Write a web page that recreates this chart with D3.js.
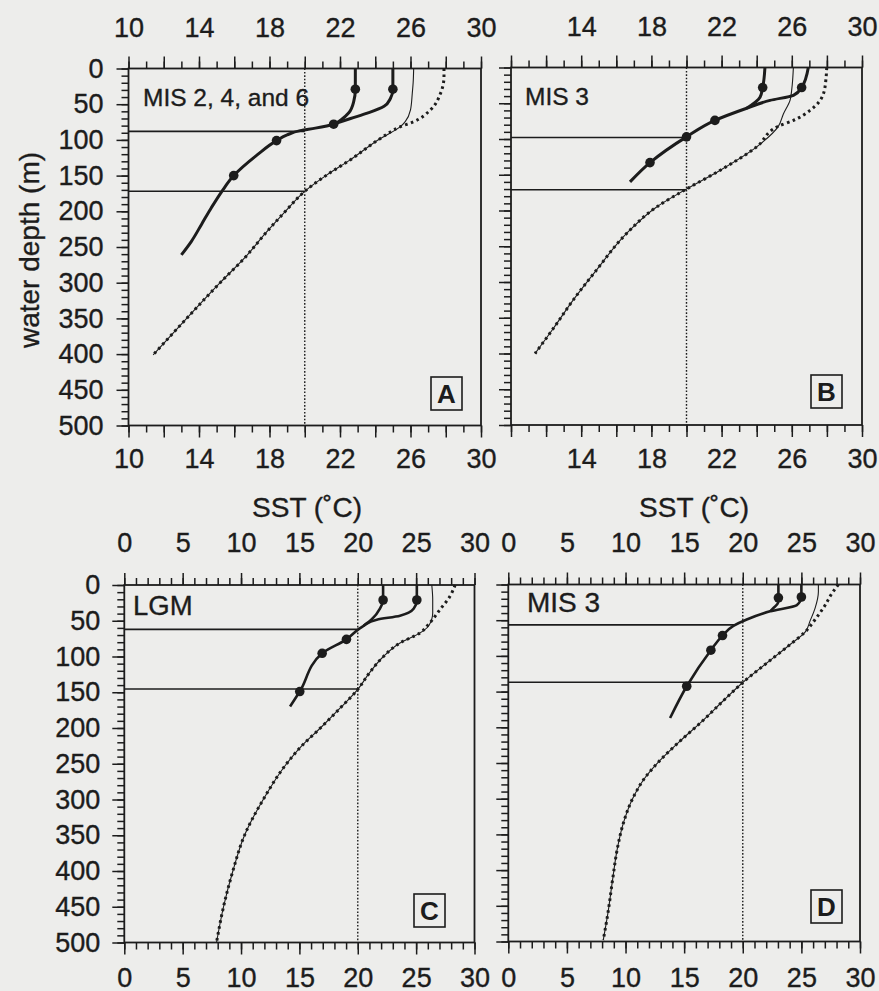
<!DOCTYPE html>
<html>
<head>
<meta charset="utf-8">
<script src="https://cdn.jsdelivr.net/npm/d3@7.9.0/dist/d3.min.js"></script>
<style>
  body { margin: 0; background: #ededeb; }
  svg { display: block; }
</style>
</head>
<body>
<svg id="chart"></svg>
<script>
// ---- data: [SST (deg C), water depth (m)] ----
// panel A, MIS 2, 4, and 6
const aThick1 = [[22.87,0],[22.87,29],[22.78,46],[22.5,62],[22.05,72],[21.64,78],[20.6,83.5],[19.74,87],[19.0,93],[18.4,101],[17.3,121],[15.97,150],[15.3,172],[14.7,195],[14.15,218],[13.57,242],[13.0,261]];
const aThick2 = [[25.0,0],[25.0,29],[24.86,42],[24.5,53],[23.55,62.5],[22.6,70],[21.64,78]];
const aThinTop = [[26.18,0],[26.15,20],[26.1,35],[26.0,58],[25.7,74.5]];
const aDottedTop = [[27.9,0],[27.9,11],[27.7,35],[27.13,58],[26.18,74.5]];
const aDeep = [[25.43,81.5],[24.29,98],[22.58,128],[21.26,149],[20.0,172],[18.9,200],[17.8,230],[16.6,265],[15.2,300],[13.3,350],[11.4,401]];
const aDots = [[22.87,29],[25.0,29],[21.64,78],[18.4,101],[15.97,150]];
const aIso = [[88,20],[172,20]];

// panel B, MIS 3
const bThick1 = [[26.94,0],[26.56,28],[26.09,39],[24.76,46],[23.43,57],[21.62,74],[20.0,97],[17.92,133],[16.78,160]];
const bThick2 = [[24.47,0],[24.34,28],[24.19,41.5],[23.43,57]];
const bThinTop = [[26.09,0],[26.0,30],[25.9,46],[25.52,65]];
const bDottedTop = [[27.99,0],[27.95,15],[27.8,37],[27.04,60],[26.09,74]];
const bDeep = [[25.24,82],[24.0,111],[21.9,144],[20.0,170],[18.3,195],[16.59,232],[14.88,283],[13.55,325],[12.41,365],[11.37,400]];
const bDots = [[24.34,28],[26.56,28],[21.62,74],[20.0,97],[17.92,133]];
const bIso = [[98,20],[171,20]];

// panel C, LGM
const cThick1 = [[25.06,0],[25.06,21],[24.8,33],[23.62,43],[21.63,48.5],[20.5,57],[20.05,62],[19.03,76],[16.95,95.5],[15.03,149],[14.2,170]];
const cThick2 = [[22.17,0],[22.17,21],[21.9,33],[21.2,48],[20.5,57]];
const cThinTop = [[26.34,0],[26.42,20],[26.42,39],[26.05,57.7]];
const cDottedTop = [[28.34,0],[27.9,15.7],[27.05,34.3],[26.05,55.3]];
const cDeep = [[25.34,67],[23.62,81],[22.2,100],[21.0,123],[20.0,146],[18.5,172],[16.8,200],[15.2,225],[13.9,250],[11.9,300],[10.3,350],[9.3,400],[8.5,450],[7.9,500]];
const cDots = [[22.17,21],[25.06,21],[19.03,76],[16.95,95.5],[15.03,149]];
const cIso = [[62,20],[145.5,20]];

// panel D, MIS 3
const dThick1 = [[25.0,0],[25.0,17.5],[24.6,29],[22.33,37.6],[20.34,49],[19.2,58],[18.27,71.5],[17.28,92],[15.22,142.5],[13.8,187]];
const dThick2 = [[23.04,0],[23.04,18.7],[23.0,26],[22.6,33],[22.33,37.6]];
const dThinTop = [[26.45,0],[26.45,10],[26.17,33],[25.74,51]];
const dDottedTop = [[28.16,0],[27.73,9.4],[26.88,32.7],[26.17,49]];
const dDeep = [[25.35,66],[24.04,84],[22.05,110],[20.05,136.5],[18.3,163.5],[16.5,192],[14.6,220],[12.9,247],[11.6,272],[10.6,300],[9.8,335],[9.3,370],[8.9,413],[8.5,460],[8.1,498]];
const dDots = [[23.04,18.7],[25.0,17.5],[18.27,71.5],[17.28,92],[15.22,142.5]];
const dIso = [[56.5,19.3],[137,20]];

const xLabelsA = [10, 14, 18, 22, 26, 30];
const xLabelsB = [14, 18, 22, 26, 30];
const xLabelsCD = [0, 5, 10, 15, 20, 25, 30];
const yLabels = [0, 50, 100, 150, 200, 250, 300, 350, 400, 450, 500];

const ink = "#1c1c1c";
const font = "'Liberation Sans', Arial, Helvetica, sans-serif";
const tickFont = 27;

const svg = d3.select("#chart").attr("width", 879).attr("height", 991);
svg.append("rect").attr("width", 879).attr("height", 991).attr("fill", "#ededeb");

const panels = [
    { name: "MIS 2, 4, and 6", letter: "A", thick: [aThick1, aThick2], thin: aThinTop.concat(aDeep), dotted: aDottedTop.concat(aDeep), dots: aDots, iso: aIso,
      left: 128.5, right: 481, top: 68.5, bottom: 425.5, xDomain: [10, 30], major: 2, xLabels: xLabelsA, yLabels: true, yPad: 13,
      topPad: 19.5, bottomPad: 11.5, nameX: 143, nameY: 106, nameSize: 24.5, boxX: 431, boxY: 377, thickW: 3 },
    { name: "MIS 3", letter: "B", thick: [bThick1, bThick2], thin: bThinTop.concat(bDeep), dotted: bDottedTop.concat(bDeep), dots: bDots, iso: bIso,
      left: 511, right: 862, top: 67.5, bottom: 425, xDomain: [10, 30], major: 2, xLabels: xLabelsB, yLabels: false,
      topPad: 19.5, bottomPad: 11.5, nameX: 525, nameY: 105, nameSize: 24.5, boxX: 811, boxY: 375, thickW: 3 },
    { name: "LGM", letter: "C", thick: [cThick1, cThick2], thin: cThinTop.concat(cDeep), dotted: cDottedTop.concat(cDeep), dots: cDots, iso: cIso,
      left: 124.3, right: 474.5, top: 585, bottom: 942.5, xDomain: [0, 30], major: 5, xLabels: xLabelsCD, yLabels: true, yPad: 12,
      topPad: 21, bottomPad: 13.5, nameX: 133, nameY: 615, nameSize: 27.5, boxX: 414, boxY: 894, thickW: 2.6 },
    { name: "MIS 3", letter: "D", thick: [dThick1, dThick2], thin: dThinTop.concat(dDeep), dotted: dDottedTop.concat(dDeep), dots: dDots, iso: dIso,
      left: 508.3, right: 860, top: 584.5, bottom: 941.5, xDomain: [0, 30], major: 5, xLabels: xLabelsCD, yLabels: false,
      topPad: 21, bottomPad: 14.5, nameX: 527, nameY: 612, nameSize: 28, boxX: 811, boxY: 890, thickW: 2.6 }
];

// scanned print looks a bit heavier than a plain screen font
function inkText(sel) {
    sel.attr("fill", ink).attr("stroke", ink).attr("stroke-width", 0.35);
}

function styleAxis(sel) {
    sel.select(".domain").remove();
    sel.selectAll("line").attr("stroke", ink).attr("stroke-width", 1.5);
    sel.attr("font-size", tickFont).attr("font-family", font);
    sel.selectAll("text").call(inkText);
}

function drawPanel(p) {
    const x = d3.scaleLinear().domain(p.xDomain).range([p.left, p.right]);
    const y = d3.scaleLinear().domain([0, 500]).range([p.top, p.bottom]);
    const g = svg.append("g");

    const xMinor = d3.range(p.xDomain[0], p.xDomain[1] + 1, 1);
    const xMajor = d3.range(p.xDomain[0], p.xDomain[1] + 1, p.major);
    const fmt = d => p.xLabels.includes(d) ? d : "";

    g.append("g").attr("transform", `translate(0,${p.top})`)
        .call(d3.axisTop(x).tickValues(xMinor).tickSize(7).tickFormat("")).call(styleAxis);
    g.append("g").attr("transform", `translate(0,${p.top})`)
        .call(d3.axisTop(x).tickValues(xMajor).tickSize(12).tickPadding(p.topPad).tickFormat(fmt)).call(styleAxis);
    g.append("g").attr("transform", `translate(0,${p.bottom})`)
        .call(d3.axisBottom(x).tickValues(xMinor).tickSize(7).tickFormat("")).call(styleAxis);
    g.append("g").attr("transform", `translate(0,${p.bottom})`)
        .call(d3.axisBottom(x).tickValues(xMajor).tickSize(12).tickPadding(p.bottomPad).tickFormat(fmt)).call(styleAxis);

    g.append("g").attr("transform", `translate(${p.left},0)`)
        .call(d3.axisLeft(y).tickValues(d3.range(0, 501, 10)).tickSize(7).tickFormat("")).call(styleAxis);
    g.append("g").attr("transform", `translate(${p.left},0)`)
        .call(d3.axisLeft(y).tickValues(yLabels).tickSize(12).tickPadding(p.yPad || 10)
            .tickFormat(d => p.yLabels ? d : "")).call(styleAxis);

    // frame
    g.append("rect")
        .attr("x", p.left).attr("y", p.top)
        .attr("width", p.right - p.left).attr("height", p.bottom - p.top)
        .attr("fill", "none").attr("stroke", ink).attr("stroke-width", 1.8);

    // 20 degree reference
    g.append("line")
        .attr("x1", x(20)).attr("x2", x(20)).attr("y1", p.top).attr("y2", p.bottom)
        .attr("stroke", ink).attr("stroke-width", 1.4).attr("stroke-dasharray", "1.6,1.8");

    // depth of the 20 degree isotherm
    g.selectAll(".iso").data(p.iso).join("line")
        .attr("x1", p.left).attr("x2", d => x(d[1]))
        .attr("y1", d => y(d[0])).attr("y2", d => y(d[0]))
        .attr("stroke", ink).attr("stroke-width", 1.6);

    const line = d3.line().x(d => x(d[0])).y(d => y(d[1])).curve(d3.curveMonotoneY);

    g.append("path").attr("d", line(p.thin))
        .attr("fill", "none").attr("stroke", ink).attr("stroke-width", 1.1);
    g.append("path").attr("d", line(p.dotted))
        .attr("fill", "none").attr("stroke", ink).attr("stroke-width", 3)
        .attr("stroke-dasharray", "2.6,3.4");
    p.thick.forEach(s => {
        g.append("path").attr("d", line(s))
            .attr("fill", "none").attr("stroke", ink).attr("stroke-width", p.thickW)
            .attr("stroke-linejoin", "round");
    });
    g.selectAll(".dot").data(p.dots).join("circle")
        .attr("cx", d => x(d[0])).attr("cy", d => y(d[1])).attr("r", 4.8)
        .attr("fill", ink);

    g.append("text")
        .attr("x", p.nameX).attr("y", p.nameY)
        .attr("font-family", font).attr("font-size", p.nameSize)
        .call(inkText)
        .text(p.name);

    g.append("rect")
        .attr("x", p.boxX).attr("y", p.boxY).attr("width", 31).attr("height", 33)
        .attr("fill", "none").attr("stroke", ink).attr("stroke-width", 1.6);
    g.append("text")
        .attr("x", p.boxX + 15.5).attr("y", p.boxY + 26)
        .attr("text-anchor", "middle")
        .attr("font-family", font).attr("font-size", 26).attr("font-weight", "bold").attr("fill", ink)
        .text(p.letter);
}

panels.forEach(drawPanel);

svg.append("text")
    .attr("transform", "translate(39,250) rotate(-90)")
    .attr("text-anchor", "middle")
    .attr("font-family", font).attr("font-size", 28)
    .call(inkText)
    .text("water depth (m)");

[307, 694].forEach(cx => {
    svg.append("text")
        .attr("x", cx).attr("y", 517)
        .attr("text-anchor", "middle")
        .attr("font-family", font).attr("font-size", 28)
        .call(inkText)
        .text("SST (˚C)");
});
</script>
</body>
</html>
